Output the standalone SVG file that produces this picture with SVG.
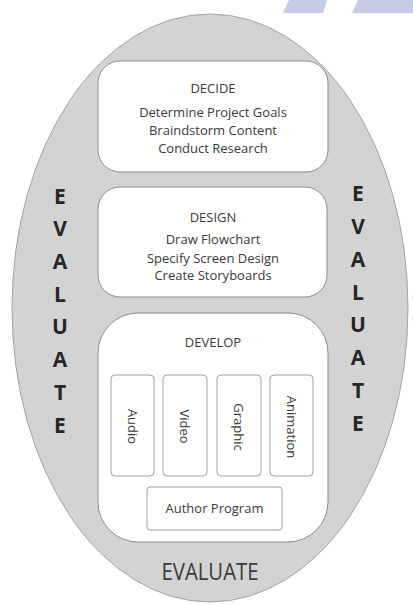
<svg xmlns="http://www.w3.org/2000/svg" width="413" height="605" viewBox="0 0 413 605">
<style>
.t{font-family:"Open Sans","Liberation Sans",sans-serif;font-size:13px;fill:#3a3a3a;text-anchor:middle}
.v{font-family:"Open Sans","Liberation Sans",sans-serif;font-size:21px;font-weight:bold;fill:#262626;text-anchor:middle}
.box{fill:#ffffff;stroke:#8c8c8c;stroke-width:1}
.sub{fill:#ffffff;stroke:#a0a0a0;stroke-width:1}
</style>
<rect width="413" height="605" fill="#ffffff"/>
<g id="deco">
<polygon points="289,0 327,0 323,13 283,13" fill="#c7cbe6"/>
<polygon points="358,0 413,0 413,13 352,13" fill="#c7cbe6"/>
</g>
<g id="evaluate">
<ellipse cx="210" cy="308" rx="198" ry="294" fill="#d3d3d3" stroke="#a3a3a3" stroke-width="1"/>
<text class="t" x="210" y="580" font-size="24" textLength="97" lengthAdjust="spacingAndGlyphs" style="font-size:24px">EVALUATE</text>
<g class="v">
<text class="v" x="60" y="203.5">E</text>
<text class="v" x="60" y="236">V</text>
<text class="v" x="60" y="269">A</text>
<text class="v" x="60" y="301.5">L</text>
<text class="v" x="60" y="334">U</text>
<text class="v" x="60" y="367">A</text>
<text class="v" x="60" y="399.5">T</text>
<text class="v" x="60" y="432.5">E</text>
<text class="v" x="358" y="201">E</text>
<text class="v" x="358" y="234">V</text>
<text class="v" x="358" y="267">A</text>
<text class="v" x="358" y="299.5">L</text>
<text class="v" x="358" y="332">U</text>
<text class="v" x="358" y="365">A</text>
<text class="v" x="358" y="398">T</text>
<text class="v" x="358" y="431">E</text>
</g>
</g>
<g id="decide">
<rect class="box" x="98" y="61" width="230" height="111" rx="22"/>
<text class="t" x="213" y="93">DECIDE</text>
<text class="t" x="213" y="117.3">Determine Project Goals</text>
<text class="t" x="213" y="135">Braindstorm Content</text>
<text class="t" x="213" y="152.7">Conduct Research</text>
</g>
<g id="design">
<rect class="box" x="98" y="187" width="229" height="110" rx="22"/>
<text class="t" x="213" y="221.7">DESIGN</text>
<text class="t" x="213" y="244.3">Draw Flowchart</text>
<text class="t" x="213" y="262.7">Specify Screen Design</text>
<text class="t" x="213" y="280">Create Storyboards</text>
</g>
<g id="develop">
<rect class="box" x="98" y="313" width="230" height="229" rx="40"/>
<text class="t" x="213" y="346.7">DEVELOP</text>
</g>
<g id="audio">
<rect class="sub" x="111" y="375" width="43" height="101" rx="4"/>
<text class="t" transform="translate(132.5,426.5) rotate(90)" dominant-baseline="central">Audio</text>
</g>
<g id="video">
<rect class="sub" x="163" y="375" width="44" height="101" rx="4"/>
<text class="t" transform="translate(185,426.5) rotate(90)" dominant-baseline="central">Video</text>
</g>
<g id="graphic">
<rect class="sub" x="217" y="375" width="44" height="101" rx="4"/>
<text class="t" transform="translate(239,427) rotate(90)" dominant-baseline="central">Graphic</text>
</g>
<g id="animation">
<rect class="sub" x="270" y="375" width="43" height="101" rx="4"/>
<text class="t" transform="translate(291.5,427) rotate(90)" dominant-baseline="central">Animation</text>
</g>
<g id="author">
<rect class="sub" x="147" y="487" width="135" height="43" rx="3"/>
<text class="t" x="214.5" y="513">Author Program</text>
</g>
<g id="connectors"></g>
</svg>
